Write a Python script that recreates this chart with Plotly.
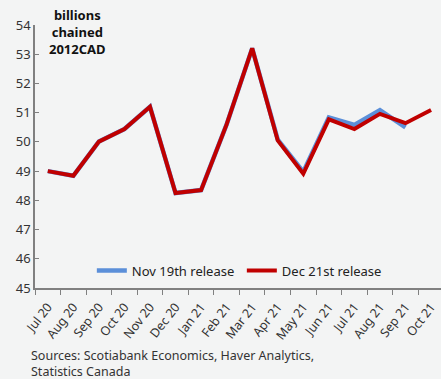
import plotly.graph_objects as go

months = ["Jul 20", "Aug 20", "Sep 20", "Oct 20", "Nov 20", "Dec 20", "Jan 21", "Feb 21",
          "Mar 21", "Apr 21", "May 21", "Jun 21", "Jul 21", "Aug 21", "Sep 21", "Oct 21"]
nov19 = [49.0, 48.84, 50.01, 50.44, 51.2, 48.25, 48.35, 50.6,
         53.2, 50.08, 48.97, 50.84, 50.58, 51.09, 50.5]
dec21 = [49.0, 48.84, 50.01, 50.44, 51.2, 48.25, 48.35, 50.6,
         53.2, 50.05, 48.91, 50.77, 50.44, 50.96, 50.64, 51.09]

FONT = "Noto Sans"
BG = "#f3f4f4"

fig = go.Figure()
fig.add_trace(go.Scatter(x=months[:len(nov19)], y=nov19, mode="lines", name="Nov 19th release",
                         line=dict(color="#5b8fd9", width=4.5)))
fig.add_trace(go.Scatter(x=months, y=dec21, mode="lines", name="Dec 21st release",
                         line=dict(color="#c00000", width=4)))

fig.update_layout(
    width=441, height=379,
    margin=dict(l=35, r=0, t=25, b=91),
    paper_bgcolor=BG, plot_bgcolor=BG,
    font=dict(family=FONT, color="#333333", size=13),
    showlegend=True,
    legend=dict(orientation="h", x=0.14, y=0.066, xanchor="left", yanchor="middle",
                bgcolor="rgba(0,0,0,0)", font=dict(size=13, color="#222222"),
                traceorder="normal", itemwidth=30, entrywidthmode="pixels", entrywidth=105),
    xaxis=dict(type="category", range=[-0.5, 15.39], tickson="boundaries",
               ticks="outside", ticklen=5, tickcolor="#808080",
               showline=True, linecolor="#808080", linewidth=1.5, ticklabelstandoff=5,
               showgrid=False, tickangle=-52, tickfont=dict(size=12.5, color="#333333")),
    yaxis=dict(range=[45, 54], dtick=1, ticks="inside", ticklen=4, tickcolor="#808080",
               showline=True, linecolor="#808080", linewidth=1.5,
               showgrid=False, zeroline=False, tickfont=dict(size=13, color="#333333")),
    annotations=[
        dict(text="<b>billions<br>chained<br>2012CAD</b>", xref="paper", yref="paper",
             x=0.105, y=1.078, xanchor="center", yanchor="top", showarrow=False,
             font=dict(size=13, color="#111111"), align="center"),
        dict(text="Sources: Scotiabank Economics, Haver Analytics,<br>Statistics Canada",
             xref="paper", yref="paper", x=-0.015, y=-0.215, xanchor="left", yanchor="top",
             showarrow=False, align="left", font=dict(size=12.5, color="#333333")),
    ],
)

fig.write_html("out.html")
